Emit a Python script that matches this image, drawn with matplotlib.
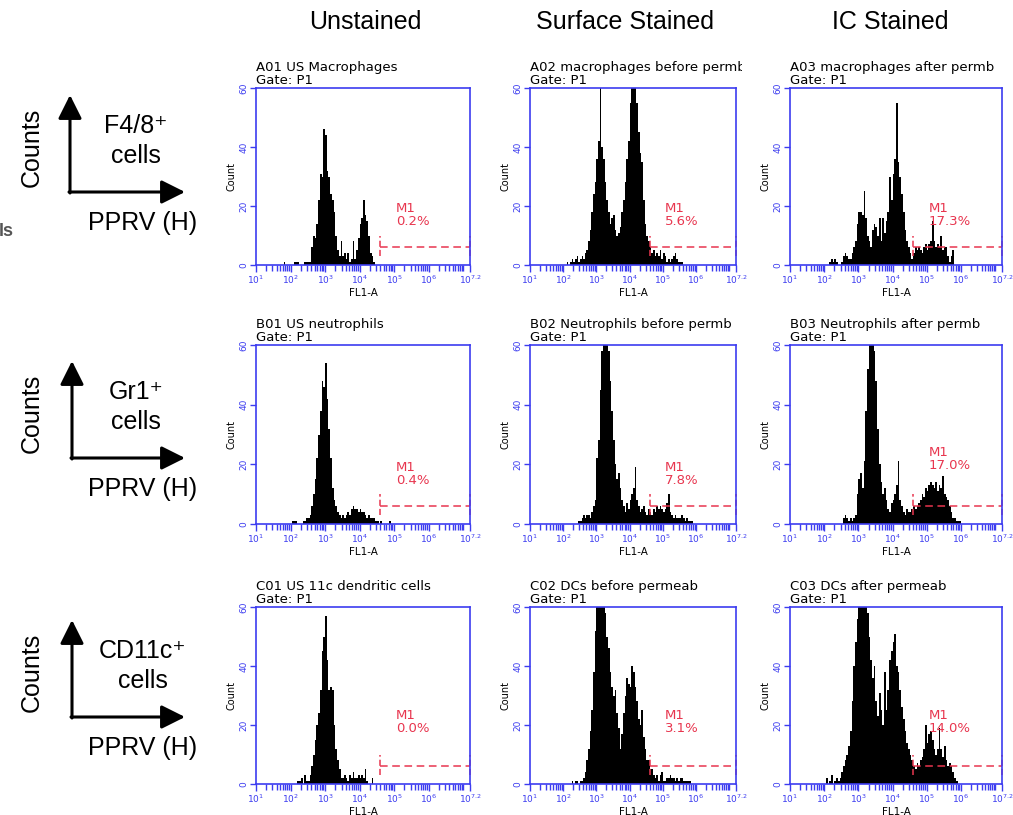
import numpy as np
import matplotlib.pyplot as plt
from matplotlib.ticker import FixedLocator, NullFormatter
from matplotlib.transforms import Bbox, TransformedBbox

# histogram channels are 0.05 decades wide on the FL1-A log axis
bin_width = 0.05

col_titles = ['Unstained', 'Surface Stained', 'IC Stained']
row_markers = ['F4/8⁺\ncells', 'Gr1⁺\ncells', 'CD11c⁺\ncells']

panel_names = [
    'A01 US Macrophages', 'A02 macrophages before permb', 'A03 macrophages after permb',
    'B01 US neutrophils', 'B02 Neutrophils before permb', 'B03 Neutrophils after permb',
    'C01 US 11c dendritic cells', 'C02 DCs before permeab', 'C03 DCs after permeab',
]
m1_percent = ['0.2%', '5.6%', '17.3%', '0.4%', '7.8%', '17.0%', '0.0%', '3.1%', '14.0%']
m1_gate = [4.6, 7.2]  # log10 limits of the M1 marker

# first channel (log10) and counts for each panel
a01_start = 1.8
a01_counts = [1, 0, 0, 0, 0, 0, 1, 1, 1, 0, 0, 0, 1, 1,
              1, 1, 6, 10, 9, 14, 22, 31, 30, 46, 44, 32, 30, 24, 22, 18, 10, 5, 3, 8,
              3, 4, 2, 4, 1, 2, 8, 2, 5, 9, 14, 16, 22, 17, 15, 10, 4, 3, 1]
a02_start = 2.0
a02_counts = [0, 0, 1, 0, 1, 2, 1, 2, 3, 1, 2, 3, 2, 4, 5, 8, 12, 18, 24, 28,
              36, 42, 60, 40, 36, 28, 22, 18, 14, 16, 17, 12, 10, 11, 13, 18, 22, 28, 36, 42,
              55, 60, 60, 60, 55, 45, 38, 35, 22, 14, 10, 8, 6, 4, 5, 3, 4, 3, 5, 2,
              4, 3, 1, 2, 1, 2, 3, 4, 2, 1, 1, 1, 0]
a03_start = 2.15
a03_counts = [1, 2, 1, 2, 1, 0, 0, 1, 3, 4, 3, 2, 2, 4, 6, 8, 14, 18, 18, 17,
              25, 16, 10, 8, 6, 12, 14, 13, 10, 16, 8, 16, 11, 15, 18, 30, 22, 31, 36, 55,
              35, 30, 24, 18, 12, 8, 6, 4, 2, 4, 6, 5, 6, 5, 4, 6, 7, 5, 7, 8,
              15, 8, 6, 7, 6, 10, 5, 6, 6, 3, 1, 3, 5]
b01_start = 2.0
b01_counts = [0, 1, 1, 1, 0, 0, 0, 1, 1, 2, 2, 3, 6, 10, 15, 22, 30, 38, 48, 46,
              54, 42, 32, 22, 12, 8, 6, 4, 3, 2, 3, 2, 3, 4, 3, 5, 6, 5, 5, 4,
              5, 4, 4, 3, 2, 3, 2, 2, 2, 1, 1, 0, 1, 0, 0, 0, 0, 1]
b02_start = 2.4
b02_counts = [0, 1, 1, 2, 3, 2, 3, 3, 2, 4, 6, 8, 22, 28, 45, 58, 60, 60, 60, 58,
              48, 38, 28, 20, 15, 17, 12, 8, 6, 4, 7, 5, 8, 10, 12, 19, 8, 6, 4, 5,
              6, 4, 3, 5, 4, 3, 5, 4, 6, 5, 6, 5, 4, 5, 7, 10, 4, 3, 2, 3,
              2, 2, 2, 3, 2, 1, 2, 1, 1, 1]
b03_start = 2.5
b03_counts = [0, 2, 3, 2, 1, 2, 1, 2, 3, 10, 15, 17, 12, 21, 38, 52, 60, 60, 60, 58,
              48, 32, 20, 14, 10, 12, 8, 5, 4, 7, 8, 10, 13, 21, 8, 6, 4, 3, 5, 4,
              4, 5, 6, 5, 6, 7, 8, 10, 9, 12, 11, 13, 14, 13, 12, 14, 11, 13, 12, 16,
              10, 9, 8, 6, 4, 2, 2, 1, 1, 1]
c01_start = 2.15
c01_counts = [0, 1, 1, 2, 0, 3, 1, 1, 3, 6, 10, 15, 20, 24, 32, 45, 50, 57, 42, 32,
              33, 32, 20, 12, 8, 5, 2, 2, 3, 2, 1, 3, 2, 4, 2, 2, 3, 2, 3, 2,
              5, 1, 0, 0, 2]
c02_start = 2.25
c02_counts = [1, 0, 1, 1, 0, 1, 1, 2, 4, 8, 12, 18, 25, 38, 52, 60, 60, 60, 60, 60,
              58, 50, 46, 38, 33, 30, 32, 24, 19, 12, 17, 24, 30, 36, 34, 33, 40, 38, 33, 28,
              22, 20, 25, 16, 12, 8, 8, 5, 5, 3, 2, 3, 1, 3, 4, 1, 1, 2, 2, 3,
              2, 2, 1, 2, 1, 2, 2, 1, 1, 1, 1, 1]
c03_start = 2.0
c03_counts = [0, 2, 0, 1, 3, 0, 1, 2, 1, 2, 4, 6, 8, 10, 13, 18, 28, 40, 48, 56,
              60, 60, 60, 60, 60, 58, 50, 42, 36, 40, 28, 23, 31, 25, 20, 38, 25, 32, 42, 45,
              48, 51, 40, 38, 32, 26, 22, 18, 14, 12, 10, 8, 6, 5, 7, 6, 8, 9, 12, 20,
              14, 17, 18, 15, 12, 10, 12, 19, 12, 9, 13, 8, 6, 7, 6, 4, 2, 1]

panel_starts = [a01_start, a02_start, a03_start, b01_start, b02_start, b03_start,
                c01_start, c02_start, c03_start]
panel_counts = [a01_counts, a02_counts, a03_counts, b01_counts, b02_counts, b03_counts,
                c01_counts, c02_counts, c03_counts]

# layout in pixels of the 1013x815 image
W, H = 1013, 815
col_left = [256, 530, 790]
col_right = [470, 736, 1002]
row_top = [88, 345, 607]
row_bottom = [265, 524, 784]
m1_label_y = [21.5, 21.5, 21.5, 21, 21, 26, 25.5, 25.5, 25.5]

blue = '#3c3cf0'
red = '#e8364f'
big_font = ['Liberation Sans', 'DejaVu Sans']

plt.rcParams['font.family'] = ['DejaVu Sans']
fig = plt.figure(figsize=(W / 100, H / 100), dpi=100)

# overlay in pixel coordinates for the row/column annotations
ov = fig.add_axes([0, 0, 1, 1], zorder=-1)
ov.set_xlim(0, W)
ov.set_ylim(H, 0)
ov.axis('off')

for x, t in zip([365, 625, 890], col_titles):
    ov.text(x, 22, t, ha='center', va='center', fontsize=18, family=big_font)

corner_y = [192, 458, 717]
corner_x = [70, 72, 72]
for r in range(3):
    cx, cy = corner_x[r], corner_y[r]
    arrow = dict(arrowstyle='-|>,head_length=0.8,head_width=0.4', lw=2.2,
                 color='black', mutation_scale=18, shrinkA=0, shrinkB=0)
    ov.annotate('', xy=(cx, cy - 97), xytext=(cx, cy + 1), arrowprops=arrow)
    ov.annotate('', xy=(185, cy), xytext=(cx - 1, cy), arrowprops=arrow)
    ov.text(32, cy - 45, 'Counts', rotation=90, ha='center', va='center',
            fontsize=18, family=big_font)
    ov.text(136 if r < 2 else 143, cy - 51, row_markers[r], ha='center', va='center',
            fontsize=18, family=big_font, linespacing=1.3)
    ov.text(143, cy + 31, 'PPRV (H)', ha='center', va='center',
            fontsize=18, family=big_font)
ov.text(-1, 232, 'ls', ha='left', va='center', fontsize=13, fontweight='bold',
        color='#555555', family=big_font)

major = [10.0 ** k for k in range(1, 7)] + [10 ** 7.2]
major_labels = [r'$10^{%d}$' % k for k in range(1, 7)] + [r'$10^{7.2}$']
minor = [m * 10.0 ** k for k in range(1, 7) for m in range(2, 10)] + [1e7]

for i in range(9):
    r, c = divmod(i, 3)
    L, R, T, B = col_left[c], col_right[c], row_top[r], row_bottom[r]
    ax = fig.add_axes([L / W, 1 - B / H, (R - L) / W, (B - T) / H])

    counts = np.array(panel_counts[i])
    edges = 10 ** (panel_starts[i] + bin_width * np.arange(len(counts) + 1))
    ax.stairs(counts, edges, fill=True, color='black', lw=0)

    ax.set_xscale('log')
    ax.set_xlim(10, 10 ** 7.2)
    ax.set_ylim(0, 60)
    ax.xaxis.set_major_locator(FixedLocator(major))
    ax.xaxis.set_minor_locator(FixedLocator(minor))
    ax.xaxis.set_minor_formatter(NullFormatter())
    ax.set_xticklabels(major_labels)
    ax.set_yticks([0, 20, 40, 60])
    ax.tick_params(axis='both', which='both', direction='out', color=blue,
                   labelcolor=blue, width=1.0, pad=1.5)
    ax.tick_params(axis='x', which='major', length=5, labelsize=6.5)
    ax.tick_params(axis='x', which='minor', length=4)
    ax.tick_params(axis='y', length=4, labelrotation=90, labelsize=6.5)
    for lab in ax.get_yticklabels():
        lab.set_va('center')
    for s in ax.spines.values():
        s.set_color(blue)
        s.set_linewidth(1.2)

    ax.set_xlabel('FL1-A', fontsize=7.5, labelpad=1)
    ax.set_ylabel('Count', fontsize=7, labelpad=2)
    title = ax.text(0, 1.008, panel_names[i] + '\nGate: P1', transform=ax.transAxes,
                    ha='left', va='bottom', fontsize=9.5, linespacing=1.0)
    title.set_clip_box(TransformedBbox(Bbox([[-0.1, 1.0], [1.03, 1.3]]), ax.transAxes))
    title.set_clip_on(True)

    # M1 marker
    g0, g1 = 10 ** m1_gate[0], 10 ** m1_gate[1]
    ax.hlines(6.2, g0, g1, colors=red, linestyles=[(0, (5, 3))], lw=1.1, clip_on=False)
    ax.vlines([g0, g1], 3.0, 10.0, colors=red, linestyles=[(0, (4, 2))], lw=1.1,
              clip_on=False)
    ax.text(10 ** 5.05, m1_label_y[i], 'M1\n' + m1_percent[i], color=red,
            fontsize=9.5, va='top', ha='left', linespacing=1.0)

fig.savefig('out.png', dpi=100)
